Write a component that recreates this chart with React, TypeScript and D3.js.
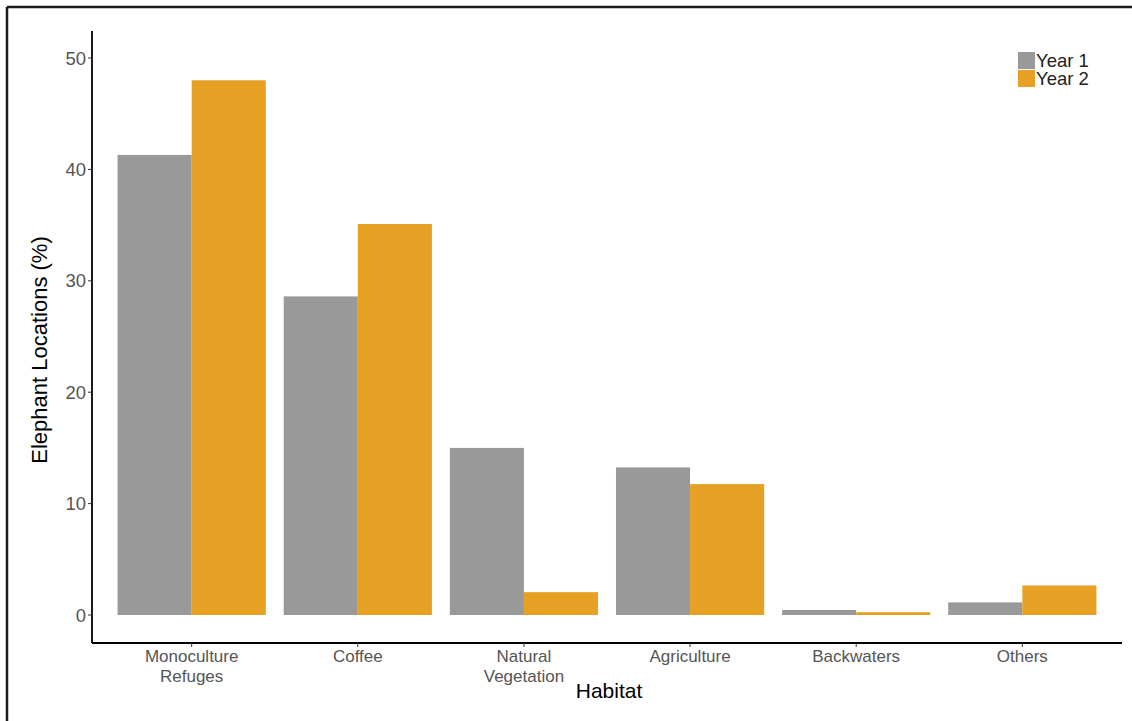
import React from "react";
import * as d3 from "d3";

const categories = ["Monoculture\nRefuges", "Coffee", "Natural\nVegetation", "Agriculture", "Backwaters", "Others"];
const seriesNames = ["Year 1", "Year 2"];
const year1 = [41.3, 28.6, 15.0, 13.25, 0.45, 1.13];
const year2 = [48.0, 35.1, 2.05, 11.75, 0.25, 2.65];
const yTicks = [0, 10, 20, 30, 40, 50];
const colors = ["#999999", "#E6A024"];

const W = 1132;
const H = 721;
const panel = { left: 92, right: 1122, top: 31, bottom: 643 };

export default function App() {
  const n = categories.length;
  const step = (panel.right - panel.left) / (n - 1 + 1.2);
  const x = d3
    .scalePoint<string>()
    .domain(categories)
    .range([panel.left + 0.6 * step, panel.right - 0.6 * step]);
  const groupW = step * 0.892;
  const inner = d3.scaleBand<string>().domain(seriesNames).range([-groupW / 2, groupW / 2]).padding(0);
  const y = d3.scaleLinear().domain([0, 50]).range([615, 58]);
  const series = [year1, year2];
  const font = "Liberation Sans, Arial, Helvetica, sans-serif";

  return (
    <div style={{ position: "absolute", left: 0, top: 0 }}>
      <svg width={W} height={H} style={{ display: "block", background: "#fff" }} fontFamily={font}>
        {/* outer frame */}
        <line x1={7} y1={7} x2={W} y2={7} stroke="#1a1a1a" strokeWidth={2.5} />
        <line x1={7} y1={7} x2={7} y2={H} stroke="#1a1a1a" strokeWidth={2.5} />

        {/* bars */}
        {categories.map((c, i) =>
          seriesNames.map((s, j) => {
            const v = series[j][i];
            return (
              <rect
                key={c + s}
                x={(x(c) as number) + (inner(s) as number)}
                y={y(v)}
                width={inner.bandwidth()}
                height={y(0) - y(v)}
                fill={colors[j]}
              />
            );
          })
        )}

        {/* axes */}
        <line x1={panel.left} y1={panel.top} x2={panel.left} y2={panel.bottom} stroke="#000" strokeWidth={1.8} />
        <line x1={panel.left} y1={panel.bottom} x2={panel.right} y2={panel.bottom} stroke="#000" strokeWidth={1.8} />

        {yTicks.map((t) => (
          <g key={t}>
            <line x1={panel.left - 4} x2={panel.left} y1={y(t)} y2={y(t)} stroke="#333" strokeWidth={1} />
            <text x={panel.left - 6} y={y(t)} dy="0.36em" textAnchor="end" fontSize={18.5} fill="#555">
              {t}
            </text>
          </g>
        ))}

        {categories.map((c) => {
          const lines = c.split("\n");
          return (
            <g key={c}>
              <line x1={x(c)} x2={x(c)} y1={panel.bottom} y2={panel.bottom + 4} stroke="#333" strokeWidth={1} />
              {lines.map((l, k) => (
                <text key={k} x={x(c)} y={662 + k * 20} textAnchor="middle" fontSize={17} fill="#555">
                  {l}
                </text>
              ))}
            </g>
          );
        })}

        <text x={(panel.left + panel.right) / 2 + 2} y={698} textAnchor="middle" fontSize={21} fill="#000">
          Habitat
        </text>
        <text
          transform={`translate(47, 350) rotate(-90)`}
          textAnchor="middle"
          fontSize={22}
          fill="#000"
        >
          Elephant Locations (%)
        </text>

        {/* legend */}
        {seriesNames.map((s, j) => (
          <g key={s} transform={`translate(1018, ${52 + j * 18})`}>
            <rect x={0} y={0} width={17} height={17} fill={colors[j]} />
            <text x={18} y={15} fontSize={18.5} fill="#222">
              {s}
            </text>
          </g>
        ))}
      </svg>
    </div>
  );
}
